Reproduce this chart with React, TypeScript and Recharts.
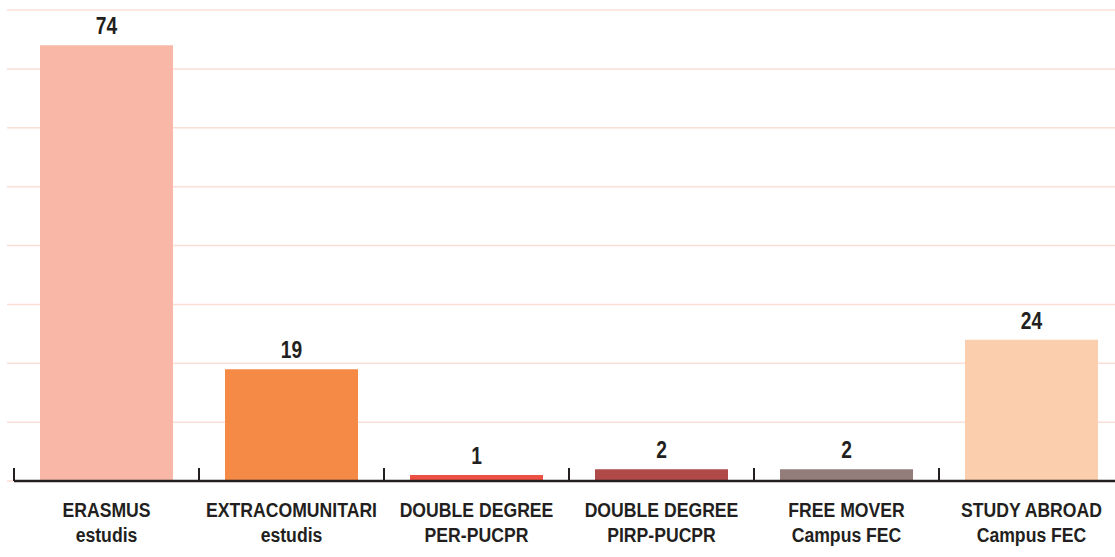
import { BarChart, Bar, XAxis, YAxis, CartesianGrid, Cell, LabelList } from "recharts"

const categories = ["ERASMUS", "EXTRACOMUNITARI", "DOUBLE DEGREE", "DOUBLE DEGREE", "FREE MOVER", "STUDY ABROAD"]
const subLabels = ["estudis", "estudis", "PER-PUCPR", "PIRP-PUCPR", "Campus FEC", "Campus FEC"]
const values = [74, 19, 1, 2, 2, 24]
const barColors = ["#f9b8a7", "#f58a47", "#ee5043", "#b04a49", "#937d7a", "#fbcfae"]
const yTicks = [0, 10, 20, 30, 40, 50, 60, 70, 80]

const FONT = "'Liberation Sans', Arial, sans-serif"
const INK = "#231f20"
const PLOT_W = 1110

const data = categories.map((c, i) => ({ name: c, sub: subLabels[i], value: values[i] }))

// category label (two lines, condensed) plus the boundary tick on the left of the band
const CategoryTick = ({ x, y, payload }: { x?: number; y?: number; payload?: { index: number } }) => {
  const i = payload?.index ?? 0
  const cx = x ?? 0
  const cy = y ?? 0
  const half = PLOT_W / categories.length / 2
  return (
    <g>
      <line x1={cx - half} x2={cx - half} y1={cy} y2={cy - 13} stroke={INK} strokeWidth={2} />
      <g transform={`translate(${cx},${cy}) scale(0.84,1)`}>
        <text x={0} y={0} textAnchor="middle" fill={INK} fontFamily={FONT} fontWeight="bold" fontSize={21}>
          <tspan x={0} dy={36}>{categories[i]}</tspan>
          <tspan x={0} dy={25}>{subLabels[i]}</tspan>
        </text>
      </g>
    </g>
  )
}

const ValueLabel = (props: any) => {
  const { x, y, width, value } = props
  const cx = Number(x) + Number(width) / 2
  return (
    <g transform={`translate(${cx},${Number(y) - 11}) scale(0.8,1)`}>
      <text x={0} y={0} textAnchor="middle" fill={INK} fontFamily={FONT} fontWeight="bold" fontSize={24}>
        {value}
      </text>
    </g>
  )
}

export default function App() {
  return (
    <div style={{ position: "absolute", left: 0, top: 0, width: 1115, height: 557, overflow: "hidden", background: "#fff" }}>
      <BarChart width={1124} height={557} data={data} margin={{ top: 10, right: 0, left: 14, bottom: 0 }}>
        <CartesianGrid vertical={false} x={7} width={1117} stroke="#fbded5" strokeWidth={1.5} />
        <YAxis hide domain={[0, 80]} ticks={yTicks} />
        <XAxis
          dataKey="name"
          height={76}
          interval={0}
          axisLine={{ stroke: INK, strokeWidth: 2.5 }}
          tickLine={false}
          tickSize={0}
          tickMargin={0}
          tick={<CategoryTick />}
        />
        <Bar dataKey="value" barSize={133} isAnimationActive={false}>
          {data.map((d, i) => (
            <Cell key={i} fill={barColors[i]} />
          ))}
          <LabelList dataKey="value" content={<ValueLabel />} />
        </Bar>
      </BarChart>
    </div>
  )
}
